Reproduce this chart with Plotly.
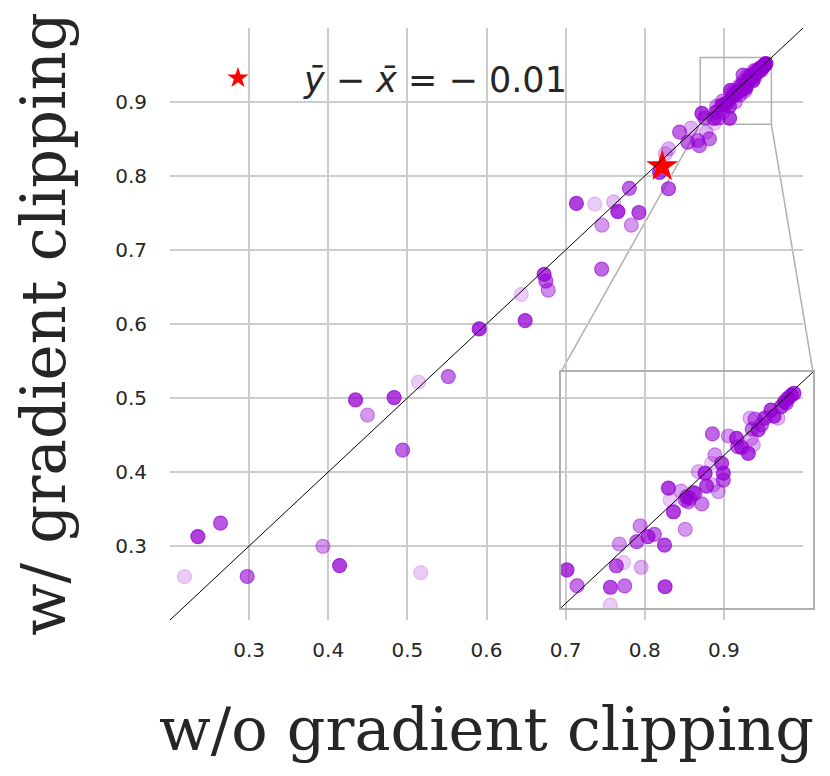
import plotly.graph_objects as go

# accuracy without clipping (x) vs with clipping (y), one point per run
x_vals = [0.2352, 0.2638, 0.2184, 0.2975, 0.3933, 0.4143, 0.5169, 0.4345, 0.4832, 0.4496,
          0.4940, 0.5140, 0.5517, 0.5908, 0.6488, 0.6440, 0.6728, 0.6750, 0.6780, 0.7455,
          0.7136, 0.7367, 0.7607, 0.7660, 0.7926, 0.7459, 0.7830, 0.7805, 0.8300, 0.8187,
          0.8300, 0.8260, 0.8440, 0.8586, 0.8543, 0.8670, 0.8690, 0.8775, 0.8817,
          0.8722, 0.8758, 0.8877, 0.8928, 0.9072, 0.8877, 0.8898, 0.8924, 0.8987, 0.8909,
          0.8971, 0.8983, 0.9011, 0.9034, 0.9070, 0.9144, 0.9084, 0.9102, 0.9090, 0.9129,
          0.9144, 0.9161, 0.9179, 0.9203, 0.9191, 0.9215, 0.9220, 0.9250, 0.9238, 0.9274,
          0.9280, 0.9280, 0.9262, 0.9244, 0.9241, 0.9298, 0.9327, 0.9345, 0.9369, 0.9387,
          0.9375, 0.9393, 0.9383, 0.9404, 0.9416, 0.9380, 0.9428, 0.9450, 0.9461, 0.9475,
          0.9487, 0.9499, 0.9511, 0.9523, 0.9532, 0.9505, 0.9331, 0.9149, 0.9173, 0.9155]
y_vals = [0.3128, 0.3310, 0.2586, 0.2588, 0.2996, 0.2735, 0.2640, 0.4974, 0.5006, 0.4770,
          0.4296, 0.5214, 0.5290, 0.5934, 0.6046, 0.6400, 0.6670, 0.6580, 0.6457, 0.6742,
          0.7630, 0.7620, 0.7650, 0.7520, 0.7507, 0.7335, 0.7335, 0.7833, 0.7828, 0.8050,
          0.8366, 0.8300, 0.8593, 0.8647, 0.8457, 0.8480, 0.8410, 0.8593, 0.8502,
          0.8845, 0.8785, 0.8779, 0.8784, 0.8781, 0.8711, 0.8861, 0.8873, 0.8855, 0.8944,
          0.8953, 0.9013, 0.8972, 0.8981, 0.8940, 0.9000, 0.9157, 0.9067, 0.9112, 0.9146,
          0.9112, 0.9118, 0.9137, 0.9097, 0.9220, 0.9214, 0.9165, 0.9284, 0.9252, 0.9252,
          0.9214, 0.9188, 0.9144, 0.9169, 0.9364, 0.9356, 0.9347, 0.9313, 0.9290, 0.9322,
          0.9424, 0.9420, 0.9382, 0.9379, 0.9398, 0.9347, 0.9424, 0.9455, 0.9432, 0.9424,
          0.9468, 0.9487, 0.9500, 0.9512, 0.9519, 0.9481, 0.9315, 0.9124, 0.9140, 0.9105]
alpha = [0.75, 0.65, 0.20, 0.60, 0.40, 0.75, 0.20, 0.75, 0.75, 0.40,
         0.60, 0.20, 0.55, 0.80, 0.75, 0.20, 0.75, 0.60, 0.45, 0.60,
         0.75, 0.20, 0.25, 0.80, 0.70, 0.40, 0.40, 0.60, 0.65, 0.75,
         0.30, 0.25, 0.60, 0.30, 0.60, 0.55, 0.55, 0.30, 0.55,
         0.75, 0.55, 0.70, 0.55, 0.75, 0.20, 0.65, 0.20, 0.30, 0.40,
         0.60, 0.45, 0.70, 0.55, 0.70, 0.40, 0.75, 0.75, 0.20, 0.35,
         0.55, 0.55, 0.55, 0.50, 0.30, 0.75, 0.70, 0.40, 0.20, 0.70,
         0.70, 0.60, 0.35, 0.30, 0.60, 0.40, 0.75, 0.75, 0.75, 0.30,
         0.30, 0.50, 0.55, 0.70, 0.55, 0.30, 0.75, 0.75, 0.75, 0.30,
         0.75, 0.75, 0.75, 0.75, 0.75, 0.55, 0.55, 0.55, 0.55, 0.50]

# mean point and its legend text
star_x = [0.822]
star_y = [0.813]
star_label = "<i>ȳ</i> − <i>x̄</i> = − 0.01"

tick_vals = [0.3, 0.4, 0.5, 0.6, 0.7, 0.8, 0.9]
main_lim = [0.2, 1.0]
zoom_lim = [0.87, 0.96]

purple = (148, 0, 211)
colors = ["rgba(%d,%d,%d,%.2f)" % (purple + (a,)) for a in alpha]
text_color = "#262626"
grid_color = "#cccccc"
box_color = "#b0b0b0"

# subplot domains (paper fractions)
main_dx = [0.0, 0.9845]
main_dy = [0.0, 1.0]
inset_dx = [0.6078, 1.0]
inset_dy = [0.0203, 0.4189]


def to_paper(v, lim, dom):
    return dom[0] + (v - lim[0]) / (lim[1] - lim[0]) * (dom[1] - dom[0])


fig = go.Figure()

marker = dict(size=14, color=colors, line=dict(width=1.2, color=colors))
fig.add_trace(go.Scatter(x=x_vals, y=y_vals, mode="markers", marker=marker,
                         showlegend=False, xaxis="x", yaxis="y"))
fig.add_trace(go.Scatter(x=x_vals, y=y_vals, mode="markers", marker=marker,
                         showlegend=False, xaxis="x2", yaxis="y2"))
fig.add_trace(go.Scatter(x=star_x, y=star_y, mode="markers", name=star_label,
                         marker=dict(symbol="star", size=24, color="#ff0000",
                                     line=dict(width=0)),
                         xaxis="x", yaxis="y"))

# y = x reference lines
fig.add_shape(type="line", xref="x", yref="y", x0=main_lim[0], y0=main_lim[0],
              x1=main_lim[1], y1=main_lim[1], line=dict(color="black", width=1), layer="above")
fig.add_shape(type="line", xref="x2", yref="y2", x0=zoom_lim[0], y0=zoom_lim[0],
              x1=zoom_lim[1], y1=zoom_lim[1], line=dict(color="black", width=1), layer="above")

# zoom box and connectors
fig.add_shape(type="rect", xref="x", yref="y", x0=zoom_lim[0], y0=zoom_lim[0],
              x1=zoom_lim[1], y1=zoom_lim[1], line=dict(color=box_color, width=1.5),
              layer="between")
for xv, xp in [(zoom_lim[0], inset_dx[0]), (zoom_lim[1], inset_dx[1])]:
    fig.add_shape(type="line", xref="paper", yref="paper",
                  x0=to_paper(xv, main_lim, main_dx), y0=to_paper(zoom_lim[0], main_lim, main_dy),
                  x1=xp, y1=inset_dy[1], line=dict(color=box_color, width=1.5),
                  layer="between")

axis_common = dict(showline=False, zeroline=False, ticks="", automargin=False,
                   tickfont=dict(family="DejaVu Sans", size=20, color=text_color))

# page body adds an 8px margin, so the figure is 16px smaller than the window
fig.update_layout(
    width=814, height=760,
    margin=dict(l=162, r=7, t=20, b=148),
    paper_bgcolor="white",
    plot_bgcolor="rgba(0,0,0,0)",
    font=dict(family="DejaVu Sans", color=text_color),
    xaxis=dict(domain=main_dx, range=main_lim, tickvals=tick_vals, showgrid=True,
               gridcolor=grid_color, gridwidth=1.6, ticklabelstandoff=16,
               title=dict(text="w/o gradient clipping", standoff=46,
                          font=dict(family="DejaVu Serif", size=60.5, color=text_color)),
               **axis_common),
    yaxis=dict(domain=main_dy, range=main_lim, tickvals=tick_vals, showgrid=True,
               gridcolor=grid_color, gridwidth=1.6, ticklabelstandoff=22,
               title=dict(text="w/ gradient clipping", standoff=30,
                          font=dict(family="DejaVu Serif", size=61, color=text_color)),
               **axis_common),
    xaxis2=dict(domain=inset_dx, range=zoom_lim, anchor="y2", showgrid=False,
                showticklabels=False, showline=True, mirror=True, linecolor=box_color,
                linewidth=1.5, zeroline=False, ticks=""),
    yaxis2=dict(domain=inset_dy, range=zoom_lim, anchor="x2", showgrid=False,
                showticklabels=False, showline=True, mirror=True, linecolor=box_color,
                linewidth=1.5, zeroline=False, ticks=""),
    legend=dict(x=0.003, y=0.965, xanchor="left", yanchor="top", bgcolor="rgba(0,0,0,0)",
                font=dict(family="DejaVu Sans", size=35, color=text_color), itemwidth=122),
)

fig.write_html("out.html")
